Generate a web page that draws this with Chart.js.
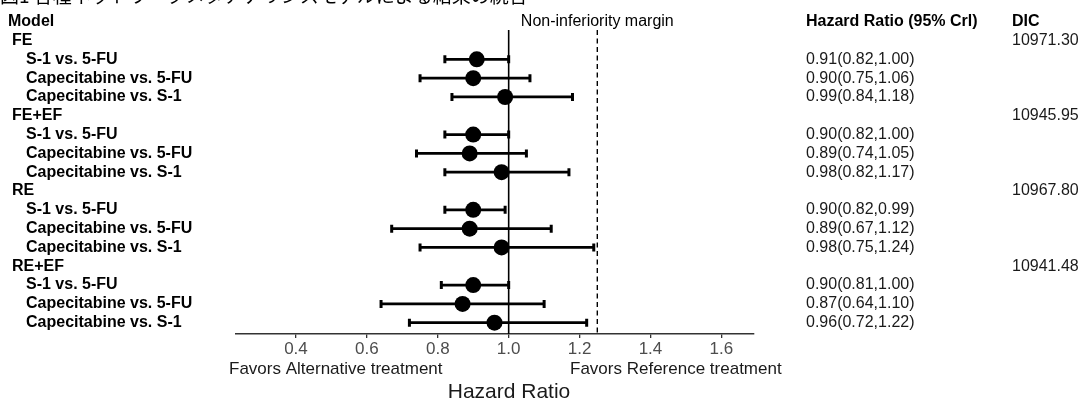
<!DOCTYPE html>
<html><head><meta charset="utf-8">
<script src="https://cdn.jsdelivr.net/npm/chart.js@4"></script>
<style>html,body{margin:0;padding:0;background:#fff;overflow:hidden}</style>
</head><body><canvas id="c" width="1078" height="402"></canvas>
<script>
const titleText = "図1 各種ネットワークメタアナリシスモデルによる結果の統合";
const groups = ["FE", "FE+EF", "RE", "RE+EF"];
const groupDIC = ["10971.30", "10945.95", "10967.80", "10941.48"];
const comparisons = ["S-1 vs. 5-FU", "Capecitabine vs. 5-FU", "Capecitabine vs. S-1"];
const hr    = [0.91, 0.90, 0.99,  0.90, 0.89, 0.98,  0.90, 0.89, 0.98,  0.90, 0.87, 0.96];
const lower = [0.82, 0.75, 0.84,  0.82, 0.74, 0.82,  0.82, 0.67, 0.75,  0.81, 0.64, 0.72];
const upper = [1.00, 1.06, 1.18,  1.00, 1.05, 1.17,  0.99, 1.12, 1.24,  1.00, 1.10, 1.22];
const xTicks = [0.4, 0.6, 0.8, 1.0, 1.2, 1.4, 1.6];
const refLine = 1.0;
const marginLine = 1.25;

const X_MIN = 0.23, X_MAX = 1.692, Y_MIN = 0.44, Y_MAX = 16.6;
const FONT = '"Liberation Sans", Arial, sans-serif';

function rowOf(i) { const g = Math.floor(i / 3), k = i % 3; return g * 4 + 2 + k; }
function fmt(v) { return v.toFixed(2); }

const datasets = [];
// reference lines
datasets.push({ type: 'line', data: [{x: refLine, y: Y_MIN}, {x: refLine, y: Y_MAX}], borderColor: '#000', borderWidth: 1.6, pointRadius: 0, order: 3 });
datasets.push({ type: 'line', data: [{x: marginLine, y: Y_MIN}, {x: marginLine, y: Y_MAX}], borderColor: '#000', borderWidth: 1.4, borderDash: [5, 3.5], pointRadius: 0, order: 3 });
// interval bars
hr.forEach((v, i) => {
  const r = rowOf(i);
  datasets.push({ type: 'line', data: [{x: lower[i], y: r}, {x: upper[i], y: r}], borderColor: '#000', borderWidth: 2.7,
    pointStyle: 'line', pointRotation: 90, pointRadius: 4, pointBorderWidth: 3, pointBorderColor: '#000', order: 2 });
});
// point estimates
datasets.push({ type: 'scatter', data: hr.map((v, i) => ({x: v, y: rowOf(i)})), backgroundColor: '#000', borderWidth: 0, pointRadius: 8, order: 1 });

const textPlugin = {
  id: 'texts',
  afterDraw(chart) {
    const ctx = chart.ctx, xs = chart.scales.x, ys = chart.scales.y;
    const Y = r => ys.getPixelForValue(r);
    ctx.save();
    ctx.fillStyle = '#000';
    // cropped title (only lower part visible, as in the reference)
    ctx.font = '19px "Noto Sans CJK JP"';
    ctx.textAlign = 'left'; ctx.textBaseline = 'alphabetic';
    ctx.fillText(titleText, 0, 3);
    ctx.textBaseline = 'middle';
    // headers
    ctx.font = 'bold 16px ' + FONT;
    ctx.fillText('Model', 8, Y(0));
    ctx.fillText('Hazard Ratio (95% Crl)', 806, Y(0));
    ctx.fillText('DIC', 1012, Y(0));
    ctx.font = '16px ' + FONT;
    ctx.textAlign = 'center';
    ctx.fillText('Non-inferiority margin', xs.getPixelForValue(marginLine), Y(0));
    // groups
    groups.forEach((g, gi) => {
      const gr = gi * 4 + 1;
      ctx.textAlign = 'left';
      ctx.font = 'bold 16px ' + FONT;
      ctx.fillText(g, 12, Y(gr));
      ctx.font = '16px ' + FONT;
      ctx.fillStyle = '#1a1a1a';
      ctx.fillText(groupDIC[gi], 1012, Y(gr));
      ctx.fillStyle = '#000';
    });
    hr.forEach((v, i) => {
      const r = rowOf(i);
      ctx.textAlign = 'left';
      ctx.font = 'bold 16px ' + FONT;
      ctx.fillStyle = '#000';
      ctx.fillText(comparisons[i % 3], 26, Y(r));
      ctx.font = '16px ' + FONT;
      ctx.fillStyle = '#1a1a1a';
      ctx.fillText(fmt(v) + '(' + fmt(lower[i]) + ',' + fmt(upper[i]) + ')', 806, Y(r));
    });
    // bottom annotations
    ctx.fillStyle = '#1a1a1a';
    ctx.font = '17px ' + FONT;
    ctx.textAlign = 'left';
    ctx.fillText('Favors Alternative treatment', 229, 369);
    ctx.fillText('Favors Reference treatment', 570, 369);
    ctx.font = '21px ' + FONT;
    ctx.textAlign = 'center';
    ctx.fillText('Hazard Ratio', 509, 392);
    ctx.restore();
  }
};

new Chart(document.getElementById('c'), {
  type: 'scatter',
  data: { datasets },
  options: {
    responsive: false, animation: false, devicePixelRatio: 1,
    layout: { padding: { left: 235.7, right: 324, top: 30, bottom: 0 } },
    plugins: { legend: { display: false }, tooltip: { enabled: false } },
    scales: {
      x: {
        type: 'linear', min: X_MIN, max: X_MAX, position: 'bottom',
        afterBuildTicks: s => { s.ticks = xTicks.map(v => ({ value: v })); },
        afterFit: s => { s.height = 68; },
        ticks: { autoSkip: false, maxRotation: 0, padding: 1, color: '#4d4d4d', font: { family: FONT, size: 17 }, callback: v => Number(v).toFixed(1) },
        grid: { drawOnChartArea: false, drawTicks: true, tickLength: 4, color: '#333', lineWidth: 1.3 },
        border: { display: true, color: '#333', width: 1.4 }
      },
      y: { type: 'linear', reverse: true, min: Y_MIN, max: Y_MAX, display: false }
    }
  },
  plugins: [textPlugin]
});
</script>
</body></html>
